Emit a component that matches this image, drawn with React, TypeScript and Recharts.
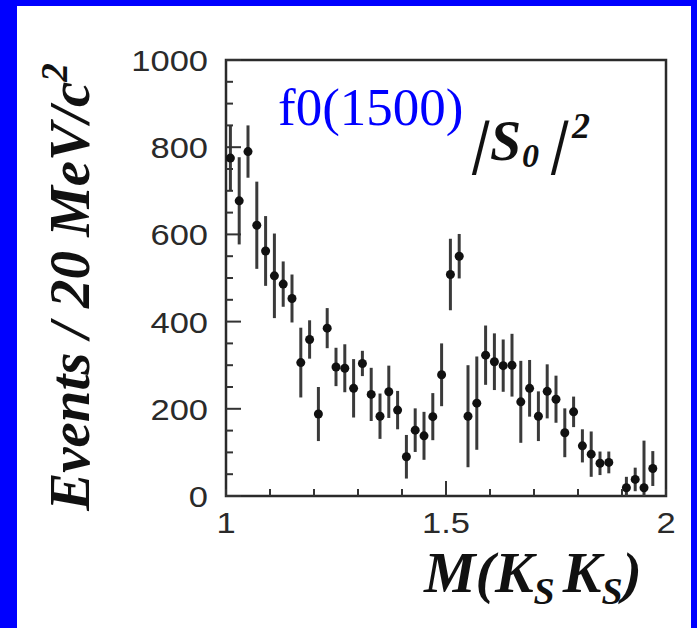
import React from "react";
import { ScatterChart, Scatter, XAxis, YAxis, ErrorBar, ReferenceArea } from "recharts";

const massBins = [1.01, 1.03, 1.05, 1.07, 1.09, 1.11, 1.13, 1.15, 1.17, 1.19, 1.21, 1.23, 1.25, 1.27, 1.29, 1.31, 1.33, 1.35, 1.37, 1.39, 1.41, 1.43, 1.45, 1.47, 1.49, 1.51, 1.53, 1.55, 1.57, 1.59, 1.61, 1.63, 1.65, 1.67, 1.69, 1.71, 1.73, 1.75, 1.77, 1.79, 1.81, 1.83, 1.85, 1.87, 1.91, 1.93, 1.95, 1.97];
const events = [775, 677, 790, 621, 562, 505, 486, 453, 306, 359, 188, 385, 296, 293, 247, 304, 233, 183, 239, 197, 90, 151, 138, 182, 278, 508, 550, 183, 213, 323, 308, 299, 300, 216, 247, 183, 240, 222, 145, 193, 115, 96, 75, 77, 19, 38, 19, 63];
const errLow = [75, 100, 60, 100, 80, 97, 52, 55, 80, 44, 62, 46, 44, 55, 67, 29, 61, 52, 60, 44, 50, 50, 55, 54, 72, 82, 51, 117, 107, 68, 65, 60, 72, 94, 65, 57, 62, 54, 56, 35, 38, 52, 27, 25, 19, 27, 19, 40];
const errHigh = [75, 100, 60, 100, 80, 97, 52, 55, 80, 44, 62, 46, 44, 55, 67, 29, 61, 52, 60, 44, 50, 50, 55, 54, 72, 82, 51, 117, 107, 68, 65, 60, 72, 94, 65, 57, 62, 54, 56, 35, 38, 52, 27, 25, 25, 27, 108, 40];

const xTicks = [1, 1.1, 1.2, 1.3, 1.4, 1.5, 1.6, 1.7, 1.8, 1.9, 2];
const xTickLabels: Record<string, string> = { "1": "1", "1.5": "1.5", "2": "2" };
const xMajor = [1.5];
const yTicks = [0, 50, 100, 150, 200, 250, 300, 350, 400, 450, 500, 550, 600, 650, 700, 750, 800, 850, 900, 950, 1000];
const yTickLabels: Record<string, string> = { "0": "0", "200": "200", "400": "400", "600": "600", "800": "800", "1000": "1000" };

const data = massBins.map((x, i) => ({ x, y: events[i], err: [errLow[i], errHigh[i]] }));

const W = 697;
const H = 628;
const PLOT_L = 226;
const PLOT_R = 666;
const PLOT_T = 60;
const PLOT_B = 496;

const SERIF = "'Liberation Serif', 'Times New Roman', serif";
const SANS = "'Liberation Sans', Arial, sans-serif";

const XTick = (props: any) => {
  const { x, y, payload } = props;
  const v = payload.value;
  const key = String(v);
  const major = xMajor.includes(v);
  const len = major ? 15 : 7;
  const label = xTickLabels[key];
  return (
    <g>
      <line x1={x} x2={x} y1={y} y2={y - len} stroke="#333" strokeWidth={2} />
      {label && (
        <text
          transform={`translate(${x},${y + 37}) scale(1.15,1)`}
          textAnchor="middle"
          fontFamily={SANS}
          fontSize={30}
          fill="#2a2a2a"
        >
          {label}
        </text>
      )}
    </g>
  );
};

const YTick = (props: any) => {
  const { x, y, payload } = props;
  const v = payload.value;
  const key = String(v);
  const label = yTickLabels[key];
  const len = label ? 15 : 7;
  return (
    <g>
      <line x1={x} x2={x + len} y1={y} y2={y} stroke="#333" strokeWidth={2} />
      {label && (
        <text
          transform={`translate(${x - 18},${y + 11}) scale(1.15,1)`}
          textAnchor="end"
          fontFamily={SANS}
          fontSize={30}
          fill="#2a2a2a"
        >
          {label}
        </text>
      )}
    </g>
  );
};

const Dot = (props: any) => {
  const { cx, cy } = props;
  if (cx == null || cy == null) return null;
  return <circle cx={cx} cy={cy} r={4.5} fill="#111" />;
};

export default function App() {
  return (
    <div
      style={{
        position: "absolute",
        left: 0,
        top: 0,
        width: W,
        height: H,
        background: "#ffffff",
        boxSizing: "border-box",
        borderLeft: "17px solid #0000ff",
        borderTop: "6px solid #0000ff",
        borderRight: "6px solid #0000ff",
        overflow: "hidden",
      }}
    >
      <div style={{ position: "absolute", left: -17, top: -6 }}>
        <ScatterChart
          width={W}
          height={H}
          margin={{ top: PLOT_T, right: W - PLOT_R, bottom: H - PLOT_B - 40, left: PLOT_L - 60 }}
        >
          <XAxis
            type="number"
            dataKey="x"
            domain={[1, 2]}
            ticks={xTicks}
            interval={0}
            tick={<XTick />}
            tickSize={0}
            tickMargin={0}
            axisLine={false}
            tickLine={false}
            height={40}
            allowDataOverflow
          />
          <YAxis
            type="number"
            dataKey="y"
            domain={[0, 1000]}
            ticks={yTicks}
            interval={0}
            tick={<YTick />}
            tickSize={0}
            tickMargin={0}
            axisLine={false}
            tickLine={false}
            width={60}
            allowDataOverflow
          />
          <ReferenceArea x1={1} x2={2} y1={0} y2={1000} fill="none" fillOpacity={0} stroke="#2a2a2a" strokeWidth={2.5} />
          <Scatter data={data} shape={<Dot />} isAnimationActive={false}>
            <ErrorBar dataKey="err" direction="y" width={0} stroke="#3a3a3a" strokeWidth={3} isAnimationActive={false} />
          </Scatter>
        </ScatterChart>
        <svg
          width={W}
          height={H}
          style={{ position: "absolute", left: 0, top: 0, pointerEvents: "none" }}
        >
          <text
            transform="translate(89,287) rotate(-90)"
            textAnchor="middle"
            fontFamily={SERIF}
            fontWeight="bold"
            fontStyle="italic"
            fontSize={57}
            fill="#111"
          >
            Events / 20 MeV/c
            <tspan dy={-22} fontSize={37}>2</tspan>
          </text>
          <text x={278} y={125} fontFamily={SERIF} fontSize={53} fill="#0000ff">
            f0(1500)
          </text>
          <g fontFamily={SERIF} fontWeight="bold" fontStyle="italic" fill="#111">
            <text transform="translate(471,162) skewX(-14)" fontSize={60}>|</text>
            <text x={490} y={160} fontSize={56}>S</text>
            <text x={522} y={167} fontSize={34}>0</text>
            <text transform="translate(550,162) skewX(-14)" fontSize={60}>|</text>
            <text x={572} y={138} fontSize={36}>2</text>
          </g>
          <text
            x={424}
            y={592}
            fontFamily={SERIF}
            fontWeight="bold"
            fontStyle="italic"
            fontSize={58}
            fill="#111"
          >
            M(K
            <tspan dy={12} fontSize={38}>S</tspan>
            <tspan dy={-12} dx={8}>K</tspan>
            <tspan dy={12} fontSize={38}>S</tspan>
            <tspan dy={-12}>)</tspan>
          </text>
        </svg>
      </div>
    </div>
  );
}
